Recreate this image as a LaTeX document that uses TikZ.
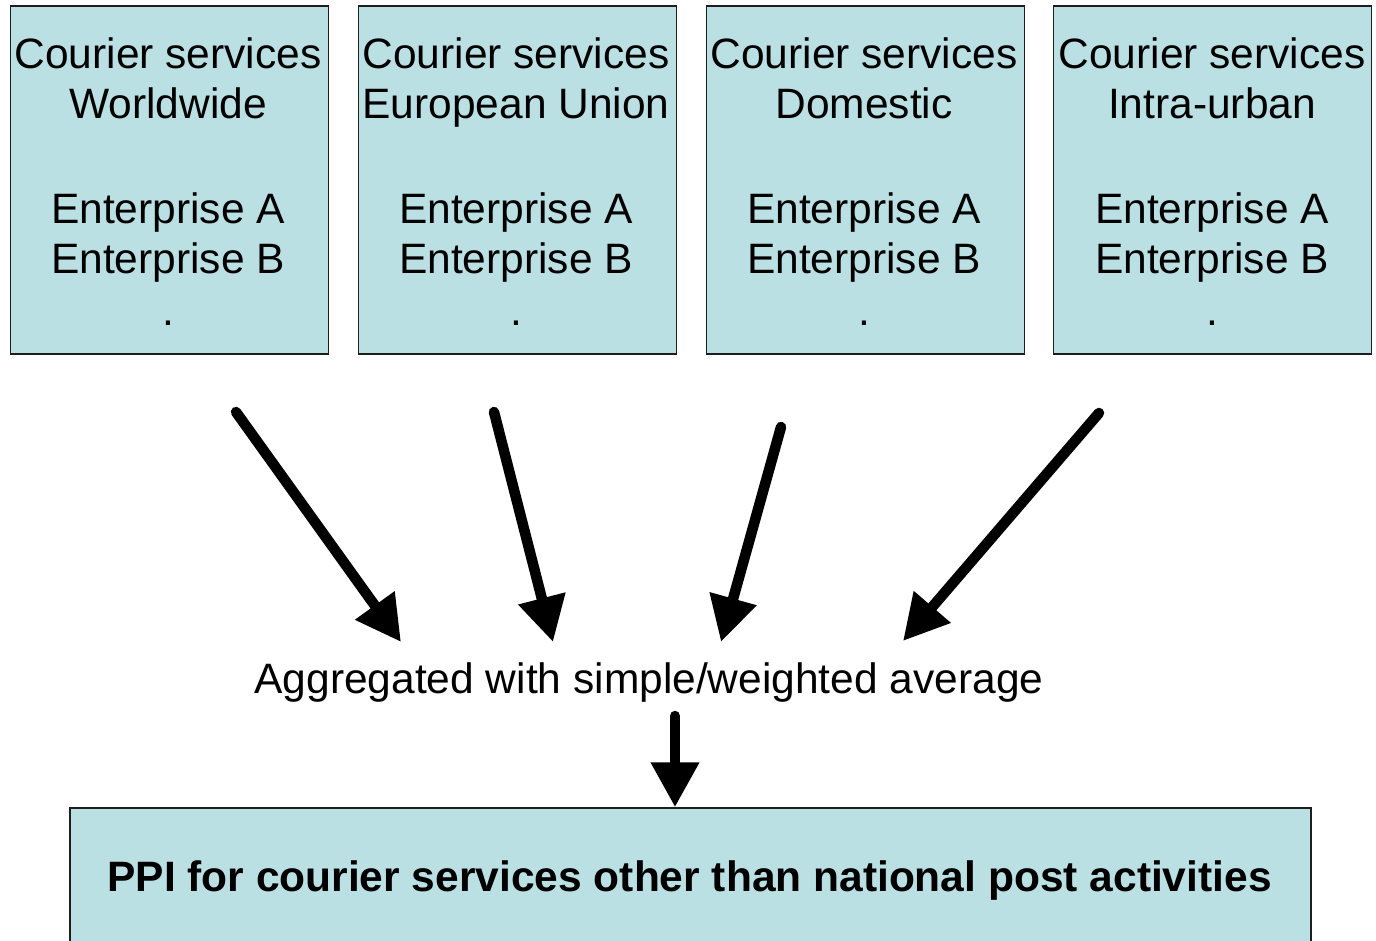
\documentclass[tikz,border=0pt]{standalone}
\usepackage{fontspec}
\setmainfont{Liberation Sans}
\usetikzlibrary{arrows.meta}
\definecolor{boxfill}{RGB}{187,224,228}
\definecolor{boxline}{RGB}{30,30,30}
\begin{document}
\begin{tikzpicture}[x=0.5pt,y=-0.5pt,
  box/.style={draw=boxline, line width=0.75pt, fill=boxfill,
    minimum width=159pt, minimum height=174pt, inner sep=0pt},
  boxtext/.style={anchor=north, align=center, inner sep=0pt,
    font=\fontsize{21.25pt}{25pt}\selectfont},
  plain/.style={inner sep=0pt, font=\fontsize{21.25pt}{25pt}\selectfont},
  flow/.style={line width=5.25pt, line cap=round,
    -{Triangle[length=22.5pt, width=23pt]}}]
\useasboundingbox (0,0) rectangle (1376,941);
\clip (0,0) rectangle (1376,941);

% four market segments
\node[box] (seg1) at (169.5,180) {};
\node[box] (seg2) at (517.5,180) {};
\node[box] (seg3) at (865.5,180) {};
\node[box] (seg4) at (1212.5,180) {};

\node[boxtext] (txt1) at (168,37) {Courier services\\Worldwide\\[27.5pt]Enterprise A\\Enterprise B\\[1pt].};
\node[boxtext] (txt2) at (516,37) {Courier services\\European Union\\[27.5pt]Enterprise A\\Enterprise B\\[1pt].};
\node[boxtext] (txt3) at (864,37) {Courier services\\Domestic\\[27.5pt]Enterprise A\\Enterprise B\\[1pt].};
\node[boxtext] (txt4) at (1212,37) {Courier services\\Intra-urban\\[27.5pt]Enterprise A\\Enterprise B\\[1pt].};

% aggregation step
\node[plain, anchor=base] (agg) at (649,693) {Aggregated with simple/weighted average};

% resulting index (box runs past the lower edge)
\node[box, minimum width=620.5pt, minimum height=80pt] (ppi) at (690.5,888) {};
\node[plain, anchor=base, font=\fontsize{21.25pt}{25pt}\selectfont\bfseries] (ppitxt) at (689.5,891)
  {PPI for courier services other than national post activities};

% arrow end points
\coordinate (a1s) at (236,412);  \coordinate (a1e) at (401,642);
\coordinate (a2s) at (494,412);  \coordinate (a2e) at (553,642);
\coordinate (a3s) at (781,427);  \coordinate (a3e) at (721,642);
\coordinate (a4s) at (1099,413); \coordinate (a4e) at (903,641);
\coordinate (a5s) at (675,716);

\draw[flow] (a1s) -- (a1e);
\draw[flow] (a2s) -- (a2e);
\draw[flow] (a3s) -- (a3e);
\draw[flow] (a4s) -- (a4e);
\draw[flow] (a5s) -- (ppi.north -| a5s);
\end{tikzpicture}
\end{document}
